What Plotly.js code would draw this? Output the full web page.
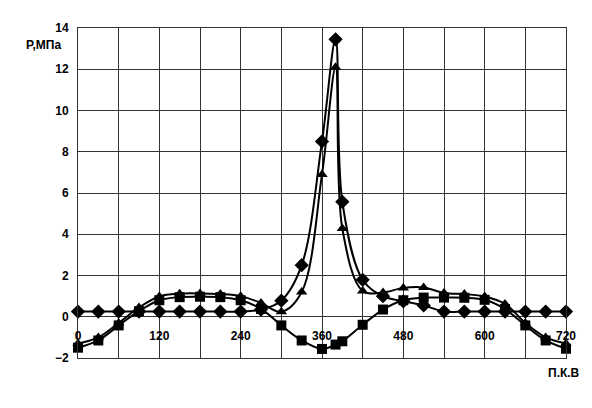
<!DOCTYPE html>
<html><head><meta charset="utf-8">
<script src="https://cdn.plot.ly/plotly-3.0.1.min.js"></script>
<style>html,body{margin:0;padding:0;background:#fff}#c{width:592px;height:408px}</style>
</head><body><div id="c"></div>
<script>
const angle = [0,30,60,90,120,150,180,210,240,270,300,330,360,380,390,420,450,480,510,540,570,600,630,660,690,720];
const seriesDiamond = [0.25,0.25,0.25,0.25,0.25,0.25,0.25,0.25,0.25,0.35,0.78,2.5,8.5,13.45,5.57,1.79,1.0,0.75,0.55,0.25,0.25,0.25,0.25,0.25,0.25,0.25];
const seriesTriangle = [-1.3,-1.0,-0.3,0.45,0.98,1.12,1.13,1.1,1.0,0.67,0.24,1.2,6.9,12.1,4.28,1.25,1.18,1.4,1.42,1.15,1.1,0.98,0.62,-0.3,-1.0,-1.3];
const seriesSquare = [-1.5,-1.15,-0.42,0.27,0.8,0.95,0.97,0.95,0.8,0.38,-0.42,-1.15,-1.56,-1.35,-1.19,-0.39,0.35,0.8,0.93,0.93,0.92,0.82,0.37,-0.42,-1.15,-1.55];
const xTickVals = [0,120,240,360,480,600,720];
const xTickText = ['0','120','240','360','480','600','720'];
const yTickVals = [-2,0,2,4,6,8,10,12,14];
const yLabel = 'P,МПа';
const xLabel = 'П.К.В';

const fam = 'Liberation Sans, Arial, sans-serif';
const mk = (y, sym, size) => ({
  x: angle, y: y, type:'scatter', mode:'lines+markers', xaxis:'x', yaxis:'y',
  line:{color:'#000', width:2, shape:'spline', smoothing:1},
  marker:{symbol:sym, size:size, color:'#000'}, showlegend:false, cliponaxis:false
});
const traces = [
  mk(seriesSquare, 'square', 10),
  mk(seriesTriangle, 'triangle-up', 10),
  mk(seriesDiamond, 'diamond', 11),
  {x:[0,720], y:[null,null], xaxis:'x2', yaxis:'y', type:'scatter', mode:'lines', showlegend:false, hoverinfo:'skip'}
];
const layout = {
  width:592, height:408,
  margin:{l:78, r:26, t:28, b:50},
  paper_bgcolor:'#fff', plot_bgcolor:'#fff',
  font:{family:fam, size:12, color:'#000'},
  xaxis:{range:[0,720], dtick:60, tick0:0, showticklabels:false, showgrid:true, gridcolor:'#333', gridwidth:1,
         zeroline:false, showline:true, linecolor:'#333', mirror:true, ticks:''},
  xaxis2:{range:[0,720], overlaying:'x', anchor:'free', position:0.125, side:'bottom',
          tickvals:xTickVals, ticktext:xTickText, showgrid:false, zeroline:false, showline:false,
          ticks:'outside', ticklen:8, tickcolor:'rgba(0,0,0,0)',
          tickfont:{family:fam, size:12, color:'#000', weight:'bold'}},
  yaxis:{range:[-2,14], tickvals:yTickVals, showgrid:true, gridcolor:'#333', gridwidth:1, zeroline:false,
         showline:true, linecolor:'#333', mirror:true, ticks:'', ticklen:0, ticklabelstandoff:6,
         tickfont:{family:fam, size:12, color:'#000', weight:'bold'}},
  annotations:[
    {text:yLabel, xref:'paper', yref:'paper', x:-0.031, y:0.948, xanchor:'right', yanchor:'middle', showarrow:false,
     font:{family:fam, size:12, color:'#000', weight:'bold'}},
    {text:xLabel, xref:'paper', yref:'paper', x:1.033, y:-0.045, xanchor:'right', yanchor:'middle', showarrow:false,
     font:{family:fam, size:12, color:'#000', weight:'bold'}}
  ]
};
Plotly.newPlot('c', traces, layout, {staticPlot:true, displayModeBar:false});
</script></body></html>
